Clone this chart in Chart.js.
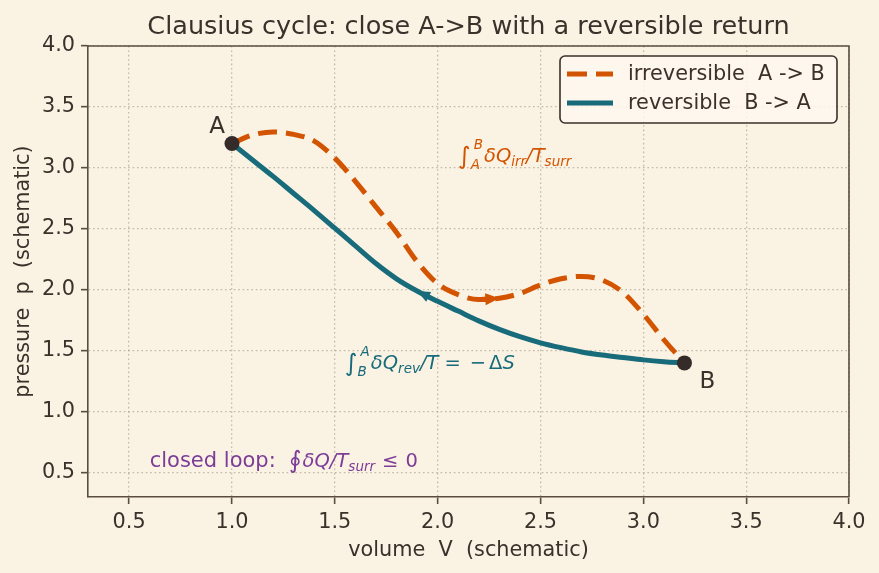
<!DOCTYPE html>
<html><head><meta charset="utf-8">
<script src="https://cdn.jsdelivr.net/npm/chart.js@4.4.1/dist/chart.umd.min.js"></script>
<style>html,body{margin:0;padding:0;background:#faf2e3;}canvas{display:block}</style>
</head><body>
<canvas id="c" width="879" height="573"></canvas>
<script>
// ---------- data ----------
const volume = [1.0,1.1,1.2,1.3,1.4,1.5,1.6,1.7,1.8,1.9,2.0,2.1,2.2,2.3,2.4,2.5,2.6,2.7,2.8,2.9,3.0,3.1,3.2];
const pIrreversible = [3.20,3.27,3.295,3.275,3.22,3.08,2.89,2.68,2.47,2.23,2.05,1.96,1.92,1.93,1.97,2.04,2.09,2.11,2.08,1.98,1.80,1.59,1.40];
const pReversible = [3.20,3.065,2.93,2.79,2.65,2.505,2.36,2.215,2.09,1.99,1.905,1.825,1.745,1.675,1.615,1.565,1.525,1.49,1.465,1.445,1.425,1.41,1.40];
const xTicks = [0.5,1.0,1.5,2.0,2.5,3.0,3.5,4.0];
const yTicks = [0.5,1.0,1.5,2.0,2.5,3.0,3.5,4.0];
const seriesLabels = ['irreversible  A -> B', 'reversible  B -> A'];
const stateLabels = ['A', 'B'];
const titleText = 'Clausius cycle: close A->B with a reversible return';
const xTitle = 'volume  V  (schematic)';
const yTitle = 'pressure  p  (schematic)';

// ---------- style ----------
const FONT = '"DejaVu Sans", sans-serif';
const COL = {bg:'#faf2e3', ink:'#3b302a', spine:'#5a4d40', orange:'#d35400', teal:'#186b7a',
             purple:'#7d3c98', dot:'#352b28', grid:'rgba(150,140,120,0.55)'};

const irrPts = volume.map((v,i)=>({x:v, y:pIrreversible[i]}));
const revPts = volume.map((v,i)=>({x:v, y:pReversible[i]})).reverse(); // B -> A
const statePts = [irrPts[0], irrPts[irrPts.length-1]];

function rich(ctx, x, y, parts, color){
  ctx.save(); ctx.fillStyle = color; ctx.textBaseline = 'alphabetic'; ctx.textAlign = 'left';
  let cx = x;
  for (const p of parts){
    if (p.stack){
      let w = 0;
      for (const s of p.stack){
        ctx.font = s.f; ctx.fillText(s.t, cx + (s.dx||0), y + s.dy);
        w = Math.max(w, ctx.measureText(s.t).width + (s.dx||0));
      }
      cx += w + (p.gap||0);
    } else {
      ctx.font = p.f; ctx.fillText(p.t, cx, y + (p.dy||0));
      cx += ctx.measureText(p.t).width + (p.gap||0);
    }
  }
  ctx.restore();
}
function head(ctx, x0, y0, x1, y1, color, len, half){
  const a = Math.atan2(y1-y0, x1-x0);
  ctx.save(); ctx.translate(x1,y1); ctx.rotate(a);
  ctx.beginPath(); ctx.moveTo(0,0); ctx.lineTo(-len,-half); ctx.lineTo(-len,half); ctx.closePath();
  ctx.fillStyle = color; ctx.fill(); ctx.restore();
}

const MI = 'italic 19.5px ' + FONT, MN = '19.5px ' + FONT, MS = 'italic 13.5px ' + FONT, MB = '24px ' + FONT;

const deco = {
  id: 'deco',
  beforeDraw(chart){
    const ctx = chart.ctx; ctx.save(); ctx.fillStyle = COL.bg; ctx.fillRect(0,0,chart.width,chart.height); ctx.restore();
  },
  afterDraw(chart){
    const {ctx, chartArea:a, scales:{x, y}} = chart;
    // top & right spines
    ctx.save(); ctx.strokeStyle = COL.spine; ctx.lineWidth = 1.6;
    ctx.beginPath(); ctx.moveTo(a.left, a.top); ctx.lineTo(a.right, a.top); ctx.lineTo(a.right, a.bottom); ctx.stroke();
    ctx.restore();

    // direction arrows
    const i1 = 12, i2 = 13;
    const ax0 = x.getPixelForValue(volume[i1]), ay0 = y.getPixelForValue(pIrreversible[i1]);
    const ax1 = x.getPixelForValue(volume[i2]), ay1 = y.getPixelForValue(pIrreversible[i2]);
    ctx.save(); ctx.strokeStyle = COL.orange; ctx.lineWidth = 4.5;
    ctx.beginPath(); ctx.moveTo(ax0, ay0); ctx.lineTo(ax1 - 8, ay1); ctx.stroke(); ctx.restore();
    head(ctx, ax0, ay0, ax1, ay1, COL.orange, 14, 6);
    const r1 = 10, r2 = 9;
    head(ctx, x.getPixelForValue(volume[r1]), y.getPixelForValue(pReversible[r1]),
              x.getPixelForValue(volume[r2]), y.getPixelForValue(pReversible[r2]), COL.teal, 13, 5.5);

    // state labels
    ctx.save(); ctx.fillStyle = COL.ink; ctx.font = '23px ' + FONT; ctx.textBaseline = 'alphabetic';
    const pA = {x:x.getPixelForValue(statePts[0].x), y:y.getPixelForValue(statePts[0].y)};
    const pB = {x:x.getPixelForValue(statePts[1].x), y:y.getPixelForValue(statePts[1].y)};
    ctx.textAlign = 'right'; ctx.fillText(stateLabels[0], pA.x - 7, pA.y - 11);
    ctx.textAlign = 'left'; ctx.fillText(stateLabels[1], pB.x + 15, pB.y + 25);
    ctx.restore();

    // annotations
    rich(ctx, x.getPixelForValue(2.1), y.getPixelForValue(3.05), [
      {t:'∫', f:MB, dy:2},
      {stack:[{t:'B', f:MS, dy:-13, dx:3}, {t:'A', f:MS, dy:7, dx:0}], gap:1},
      {t:'δQ', f:MI}, {t:'irr', f:MS, dy:4}, {t:'/T', f:MI}, {t:'surr', f:MS, dy:4}
    ], COL.orange);
    rich(ctx, x.getPixelForValue(1.55), y.getPixelForValue(1.35), [
      {t:'∫', f:MB, dy:2},
      {stack:[{t:'A', f:MS, dy:-13, dx:3}, {t:'B', f:MS, dy:7, dx:0}], gap:1},
      {t:'δQ', f:MI}, {t:'rev', f:MS, dy:4}, {t:'/T', f:MI, gap:6}, {t:'=', f:MN, gap:9},
      {t:'−', f:MN, gap:3}, {t:'Δ', f:MN}, {t:'S', f:MI}
    ], COL.teal);
    rich(ctx, x.getPixelForValue(0.6), y.getPixelForValue(0.55), [
      {t:'closed loop:  ', f:'21px ' + FONT},
      {t:'∮', f:MB, dy:1, gap:1}, {t:'δQ', f:MI}, {t:'/T', f:MI}, {t:'surr', f:MS, dy:4, gap:7}, {t:'≤', f:MN, gap:7}, {t:'0', f:MN}
    ], COL.purple);

    // legend
    const L = {l:560, t:56, r:837, b:123};
    ctx.save();
    ctx.fillStyle = 'rgba(253,248,238,0.85)'; ctx.strokeStyle = COL.ink; ctx.lineWidth = 1.6;
    ctx.beginPath(); ctx.roundRect(L.l, L.t, L.r-L.l, L.b-L.t, 5); ctx.fill(); ctx.stroke();
    const rows = [{y:74, c:COL.orange, dash:[20,9]}, {y:103, c:COL.teal, dash:[]}];
    rows.forEach((r,i)=>{
      ctx.strokeStyle = r.c; ctx.lineWidth = 5; ctx.setLineDash(r.dash); ctx.lineCap = 'butt';
      ctx.beginPath(); ctx.moveTo(567, r.y); ctx.lineTo(613, r.y); ctx.stroke(); ctx.setLineDash([]);
      ctx.fillStyle = COL.ink; ctx.font = '20.8px ' + FONT; ctx.textBaseline = 'middle'; ctx.textAlign = 'left';
      ctx.fillText(chart.data.datasets[i].label, 628, r.y + 1);
    });
    ctx.restore();

    // titles
    ctx.save(); ctx.fillStyle = COL.ink; ctx.textAlign = 'center'; ctx.textBaseline = 'alphabetic';
    ctx.font = '25.5px ' + FONT; ctx.fillText(titleText, (a.left + a.right)/2, 34);
    ctx.font = '20.8px ' + FONT; ctx.fillText(xTitle, (a.left + a.right)/2, 556);
    ctx.translate(29, (a.top + a.bottom)/2); ctx.rotate(-Math.PI/2); ctx.fillText(yTitle, 0, 0);
    ctx.restore();
  }
};

const tickFont = {family: FONT, size: 20.8};
const gridOpts = {color: COL.grid, lineWidth: 1.3, drawTicks: true, tickLength: 7,
                  tickColor: COL.spine, tickWidth: 1.6, tickBorderDash: []};
const borderOpts = {display: true, color: COL.spine, width: 1.6, dash: [1.6, 2.8]};
new Chart(document.getElementById('c'), {
  type: 'scatter',
  data: {datasets: [
    {label: seriesLabels[0], data: irrPts, showLine: true, borderColor: COL.orange, borderWidth: 5,
     borderDash: [19, 9], cubicInterpolationMode: 'monotone', pointRadius: 0, fill: false, order: 1},
    {label: seriesLabels[1], data: revPts, showLine: true, borderColor: COL.teal, borderWidth: 5,
     cubicInterpolationMode: 'monotone', pointRadius: 0, fill: false, order: 2},
    {label: 'states', data: statePts, showLine: false, pointRadius: 7.5, pointBackgroundColor: COL.dot,
     pointBorderColor: COL.dot, pointBorderWidth: 0, order: 0}
  ]},
  options: {
    responsive: false, animation: false, devicePixelRatio: 1,
    layout: {padding: {top: 46, right: 30, left: 0, bottom: 0}},
    plugins: {legend: {display: false}, tooltip: {enabled: false}, title: {display: false}},
    scales: {
      x: {type: 'linear', min: 0.3, max: 4.0,
          afterFit(s){ s.height = 76; },
          afterBuildTicks(s){ s.ticks = xTicks.map(v => ({value: v})); },
          ticks: {font: tickFont, color: COL.ink, padding: 6, maxRotation: 0, callback: v => Number(v).toFixed(1)},
          grid: gridOpts, border: borderOpts},
      y: {type: 'linear', min: 0.3, max: 4.0,
          afterFit(s){ s.width = 88; },
          afterBuildTicks(s){ s.ticks = yTicks.map(v => ({value: v})); },
          ticks: {font: tickFont, color: COL.ink, padding: 6, callback: v => Number(v).toFixed(1)},
          grid: gridOpts, border: borderOpts}
    }
  },
  plugins: [deco]
});
</script>
</body></html>
